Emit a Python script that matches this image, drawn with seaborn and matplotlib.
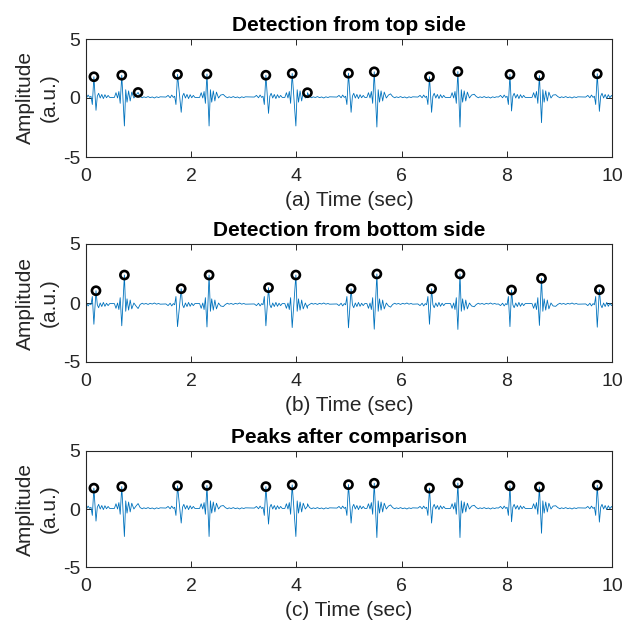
import numpy as np
import pandas as pd
import matplotlib
matplotlib.use("Agg")
import matplotlib.pyplot as plt
import seaborn as sns

# ---------------- data ----------------
# R peaks (detected from the top side; also the final peaks)
r_t = [0.15, 0.68, 1.74, 2.30, 3.42, 3.92, 4.99, 5.48, 6.53, 7.07, 8.06, 8.62, 9.72]
r_v = [1.80, 1.93, 2.00, 2.03, 1.93, 2.08, 2.10, 2.22, 1.80, 2.24, 2.00, 1.90, 2.05]
beat_kind = ["A", "B", "A", "B", "A", "B", "A", "B", "A", "B", "A", "B", "A"]
# S troughs (detected from the bottom side, on the inverted signal)
tr_t = [0.19, 0.73, 1.81, 2.34, 3.47, 3.99, 5.04, 5.53, 6.57, 7.11, 8.09, 8.66, 9.76]
tr_v = [-1.04, -2.37, -1.21, -2.37, -1.30, -2.37, -1.21, -2.46, -1.21, -2.46, -1.10, -2.09, -1.13]
# T waves after the deep beats
tw_t = [0.99, 2.61, 4.21, 5.79, 7.38, 8.93]
tw_v = [0.47, 0.30, 0.45, 0.35, 0.32, 0.28]
# false detections in the top-side panel
extra_t = [0.99, 4.21]
extra_v = [0.47, 0.45]

# beat shape pieces (offsets in s, amplitudes in a.u.)
pre_A_off = [-0.22, -0.18, -0.14, -0.11, -0.08, -0.055, -0.03]
pre_A_val = [0.08, 0.22, 0.02, 0.25, 0.05, 0.15, -0.55]
post_A_off = [0.025, 0.05, 0.08, 0.11, 0.14, 0.17, 0.20, 0.23, 0.26]
post_A_val = [0.15, 0.40, 0.00, 0.30, -0.05, 0.28, 0.02, 0.22, 0.05]
pre_B_off = [-0.14, -0.11, -0.08, -0.055, -0.03]
pre_B_val = [0.05, 0.45, 0.00, 0.55, -0.45]
post_B_off = [0.025, 0.05, 0.08, 0.11, 0.14, 0.18, 0.22]
post_B_val = [0.70, -0.35, 0.60, -0.25, 0.50, 0.00, 0.25]
tail_off = [0.04, 0.08, 0.11, 0.15, 0.19, 0.23, 0.27, 0.31, 0.35, 0.39, 0.42]
tail_val = [0.12, 0.02, 0.10, 0.04, 0.12, 0.03, 0.09, 0.00, 0.10, 0.04, 0.10]

titles = ["Detection from top side", "Detection from bottom side", "Peaks after comparison"]
xlabels = ["(a) Time (sec)", "(b) Time (sec)", "(c) Time (sec)"]
x_ticks = [0, 2, 4, 6, 8, 10]
y_ticks = [-5, 0, 5]

# ---------------- assemble the trace from the read pieces ----------------
ts, vs = [], []
bi = 0
for k, rt, rv, tt, tv in zip(beat_kind, r_t, r_v, tr_t, tr_v):
    if k == "A":
        ts += [rt + o for o in pre_A_off]; vs += pre_A_val
        ts += [rt, tt]; vs += [rv, tv]
        ts += [tt + o for o in post_A_off]; vs += post_A_val
    else:
        ts += [rt + o for o in pre_B_off]; vs += pre_B_val
        ts += [rt, tt]; vs += [rv, tv]
        ts += [tt + o for o in post_B_off]; vs += post_B_val
        ts += [tw_t[bi]]; vs += [tw_v[bi]]
        ts += [tw_t[bi] + o for o in tail_off]; vs += tail_val
        bi += 1
sig = pd.DataFrame({"t": ts, "v": vs})
sig_inv = pd.DataFrame({"t": ts, "v": [-v for v in vs]})

top_marks = pd.DataFrame({"t": r_t + extra_t, "v": r_v + extra_v})
bot_marks = pd.DataFrame({"t": tr_t, "v": [-v for v in tr_v]})
cmp_marks = pd.DataFrame({"t": r_t, "v": r_v})

# ---------------- drawing ----------------
sns.set_style("ticks")
plt.rcParams["font.family"] = ["Liberation Sans", "DejaVu Sans"]
dark = "#262626"
line_c = "#0072BD"

fig = plt.figure(figsize=(6.22, 6.27), dpi=100)
W, H = 622.0, 627.0
boxes = [(39, 157), (244, 362), (451, 567)]
left, right = 86, 612

panels = [(sig, top_marks), (sig_inv, bot_marks), (sig, cmp_marks)]
for i, ((top, bot), (d, m)) in enumerate(zip(boxes, panels)):
    ax = fig.add_axes([left / W, 1 - bot / H, (right - left) / W, (bot - top) / H])
    sns.lineplot(data=d, x="t", y="v", ax=ax, estimator=None, sort=True,
                 color=line_c, lw=0.6, zorder=2)
    sns.scatterplot(data=m, x="t", y="v", ax=ax, marker="o", s=34,
                    facecolors="none", edgecolor="black", linewidth=1.9, zorder=3)
    ax.set_xlim(0, 10)
    ax.set_ylim(-5, 5)
    ax.set_xticks(x_ticks)
    ax.set_xticklabels([str(v) for v in x_ticks])
    ax.set_yticks(y_ticks)
    ax.set_yticklabels([str(v) for v in y_ticks])
    ax.tick_params(direction="in", length=4, width=0.7, colors=dark,
                   top=True, right=True, labelsize=14)
    ax.tick_params(axis="x", pad=8)
    ax.tick_params(axis="y", pad=4)
    for s in ax.spines.values():
        s.set_visible(True)
        s.set_color(dark)
        s.set_linewidth(0.8)
    ax.set_title(titles[i], fontsize=15, fontweight="bold", color="black", pad=6)
    ax.set_xlabel(xlabels[i], fontsize=15, color=dark)
    ax.set_ylabel("Amplitude\n(a.u.)", fontsize=15, color=dark, linespacing=1.35)
    hpx = bot - top
    ax.xaxis.set_label_coords(0.5, -34 / hpx)
    ax.yaxis.set_label_coords(-27 / (right - left), 0.5)

fig.savefig("out.png", dpi=100)
